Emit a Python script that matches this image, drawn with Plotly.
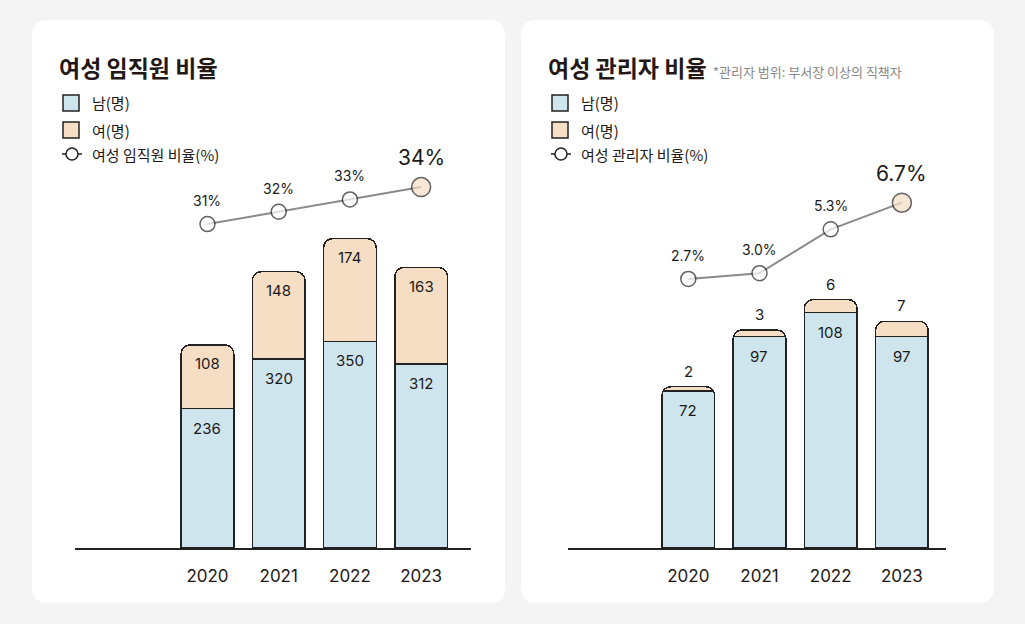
import plotly.graph_objects as go

# ---------------- data ----------------
years = ["2020", "2021", "2022", "2023"]
emp_male = [236, 320, 350, 312]
emp_female = [108, 148, 174, 163]
emp_ratio = [31, 32, 33, 34]
emp_ratio_labels = ["31%", "32%", "33%", "34%"]

mgr_male = [72, 97, 108, 97]
mgr_female = [2, 3, 6, 7]
mgr_ratio = [2.7, 3.0, 5.3, 6.7]
mgr_ratio_labels = ["2.7%", "3.0%", "5.3%", "6.7%"]

W, H = 1025, 624
BLUE = "#cfe5ee"
PEACH = "#f6dec4"
DARK = "#222222"
TXT = "#231815"
GRID_FONT = "Inter, Noto Sans CJK KR, sans-serif"
KR_FONT = "Noto Sans CJK KR, sans-serif"


def px(x):
    return x / W


def py(y):
    return 1 - y / H


def card_path(x0, y0, x1, y1, r):
    pts = [
        ("M", [(x0 + r, y0)]),
        ("L", [(x1 - r, y0)]),
        ("Q", [(x1, y0), (x1, y0 + r)]),
        ("L", [(x1, y1 - r)]),
        ("Q", [(x1, y1), (x1 - r, y1)]),
        ("L", [(x0 + r, y1)]),
        ("Q", [(x0, y1), (x0, y1 - r)]),
        ("L", [(x0, y0 + r)]),
        ("Q", [(x0, y0), (x0 + r, y0)]),
    ]
    s = ""
    for cmd, p in pts:
        s += cmd + " " + " ".join(f"{px(a):.5f},{py(b):.5f}" for a, b in p) + " "
    return s + "Z"


fig = go.Figure()

marker_sizes = [15, 15, 15, 19]
marker_fills = ["white", "white", "white", PEACH]

# left panel
fig.add_trace(go.Bar(x=years, y=emp_male, marker=dict(color=BLUE, line=dict(color=DARK, width=1.5)),
                     width=0.74, xaxis="x", yaxis="y", showlegend=False, hoverinfo="skip"))
fig.add_trace(go.Bar(x=years, y=emp_female, marker=dict(color=PEACH, line=dict(color=DARK, width=1.5)),
                     width=0.74, xaxis="x", yaxis="y", showlegend=False, hoverinfo="skip"))
fig.add_trace(go.Scatter(x=years, y=emp_ratio, mode="lines+markers", xaxis="x", yaxis="y2",
                         line=dict(color="#8a8a8a", width=2),
                         marker=dict(size=marker_sizes, color=marker_fills, line=dict(color=DARK, width=1.5)),
                         showlegend=False, hoverinfo="skip", cliponaxis=False))

# right panel
fig.add_trace(go.Bar(x=years, y=mgr_male, marker=dict(color=BLUE, line=dict(color=DARK, width=1.5)),
                     width=0.74, xaxis="x2", yaxis="y3", showlegend=False, hoverinfo="skip"))
fig.add_trace(go.Bar(x=years, y=mgr_female, marker=dict(color=PEACH, line=dict(color=DARK, width=1.5)),
                     width=0.74, xaxis="x2", yaxis="y3", showlegend=False, hoverinfo="skip"))
fig.add_trace(go.Scatter(x=years, y=mgr_ratio, mode="lines+markers", xaxis="x2", yaxis="y4",
                         line=dict(color="#8a8a8a", width=2),
                         marker=dict(size=marker_sizes, color=marker_fills, line=dict(color=DARK, width=1.5)),
                         showlegend=False, hoverinfo="skip", cliponaxis=False))

ydom = [py(548), py(150)]

xcommon = dict(type="category", showgrid=False, zeroline=False, showline=True, linecolor=DARK,
               linewidth=2, ticks="outside", ticklen=12, tickcolor="rgba(0,0,0,0)",
               tickfont=dict(family=GRID_FONT, size=17, color=TXT), fixedrange=True)
yhidden = dict(visible=False, showgrid=False, zeroline=False, fixedrange=True)

fig.update_layout(
    width=W, height=H,
    margin=dict(l=0, r=0, t=0, b=0),
    paper_bgcolor="#f4f4f4", plot_bgcolor="rgba(0,0,0,0)",
    barmode="stack", barcornerradius=9,
    font=dict(family=GRID_FONT, color=TXT),
    xaxis=dict(domain=[px(75), px(471)], range=[-1.86, 3.70], anchor="y", **xcommon),
    yaxis=dict(domain=ydom, range=[0, 674], anchor="x", **yhidden),
    yaxis2=dict(domain=ydom, range=[4.73, 37.01], overlaying="y", anchor="x", **yhidden),
    xaxis2=dict(domain=[px(568), px(946)], range=[-1.69, 3.62], anchor="y3", **xcommon),
    yaxis3=dict(domain=ydom, range=[0, 182.6], anchor="x2", **yhidden),
    yaxis4=dict(domain=ydom, range=[-11.41, 9.46], overlaying="y3", anchor="x2", **yhidden),
)

shapes = [
    dict(type="path", xref="paper", yref="paper", path=card_path(32, 20, 505, 603, 16),
         fillcolor="white", line=dict(width=0), layer="below"),
    dict(type="path", xref="paper", yref="paper", path=card_path(521, 20, 994, 603, 16),
         fillcolor="white", line=dict(width=0), layer="below"),
]

annotations = []


def add_legend(x0, line_label):
    for yy, col, lab in [(103, BLUE, "남(명)"), (130, PEACH, "여(명)")]:
        shapes.append(dict(type="rect", xref="paper", yref="paper",
                           x0=px(x0), x1=px(x0 + 16), y0=py(yy + 8), y1=py(yy - 8),
                           fillcolor=col, line=dict(color=DARK, width=1.5)))
        annotations.append(dict(xref="paper", yref="paper", x=px(x0 + 27), y=py(yy), text=lab,
                                showarrow=False, xanchor="left", yanchor="middle",
                                font=dict(family=KR_FONT, size=15, color=TXT)))
    yy = 154
    shapes.append(dict(type="line", xref="paper", yref="paper", x0=px(x0 - 1), x1=px(x0 + 19),
                       y0=py(yy), y1=py(yy), line=dict(color=DARK, width=1.5)))
    shapes.append(dict(type="circle", xref="paper", yref="paper", x0=px(x0 + 3), x1=px(x0 + 15),
                       y0=py(yy + 6), y1=py(yy - 6), fillcolor="white", line=dict(color=DARK, width=1.5)))
    annotations.append(dict(xref="paper", yref="paper", x=px(x0 + 27), y=py(yy), text=line_label,
                            showarrow=False, xanchor="left", yanchor="middle",
                            font=dict(family=KR_FONT, size=15, color=TXT)))


add_legend(63, "여성 임직원 비율(%)")
add_legend(552, "여성 관리자 비율(%)")

# titles
annotations.append(dict(xref="paper", yref="paper", x=px(57), y=py(67), text="<b>여성 임직원 비율</b>",
                        showarrow=False, xanchor="left", yanchor="middle",
                        font=dict(family=KR_FONT, size=23, color=TXT)))
annotations.append(dict(xref="paper", yref="paper", x=px(546), y=py(67), text="<b>여성 관리자 비율</b>",
                        showarrow=False, xanchor="left", yanchor="middle",
                        font=dict(family=KR_FONT, size=23, color=TXT)))
annotations.append(dict(xref="paper", yref="paper", x=px(711), y=py(71), text="*관리자 범위: 부서장 이상의 직책자",
                        showarrow=False, xanchor="left", yanchor="middle",
                        font=dict(family=KR_FONT, size=13, color="#888888")))

# bar labels - left (category index positions)
for i, (m, f) in enumerate(zip(emp_male, emp_female)):
    annotations.append(dict(xref="x", yref="y", x=i, y=m, text=str(m), showarrow=False,
                            yanchor="top", yshift=-8, font=dict(size=15, color="#1a1a1a")))
    annotations.append(dict(xref="x", yref="y", x=i, y=m + f, text=str(f), showarrow=False,
                            yanchor="top", yshift=-7, font=dict(size=15, color="#1a1a1a")))

# bar labels - right
for i, (m, f) in enumerate(zip(mgr_male, mgr_female)):
    annotations.append(dict(xref="x2", yref="y3", x=i, y=m, text=str(m), showarrow=False,
                            yanchor="top", yshift=-8, font=dict(size=15, color="#1a1a1a")))
    annotations.append(dict(xref="x2", yref="y3", x=i, y=m + f, text=str(f), showarrow=False,
                            yanchor="bottom", yshift=4, font=dict(size=15, color="#1a1a1a")))

# ratio labels
for i, (v, lab) in enumerate(zip(emp_ratio, emp_ratio_labels)):
    last = i == len(emp_ratio) - 1
    annotations.append(dict(xref="x", yref="y2", x=i, y=v, text=lab, showarrow=False,
                            yanchor="bottom", yshift=15 if last else 13,
                            font=dict(size=21 if last else 14, color="#1a1a1a")))
for i, (v, lab) in enumerate(zip(mgr_ratio, mgr_ratio_labels)):
    last = i == len(mgr_ratio) - 1
    annotations.append(dict(xref="x2", yref="y4", x=i, y=v, text=lab, showarrow=False,
                            yanchor="bottom", yshift=15 if last else 13,
                            font=dict(size=21 if last else 14, color="#1a1a1a")))

fig.update_layout(shapes=shapes, annotations=annotations)

fig.write_html("out.html", config={"displayModeBar": False},
               post_script="document.body.style.margin='0';")
